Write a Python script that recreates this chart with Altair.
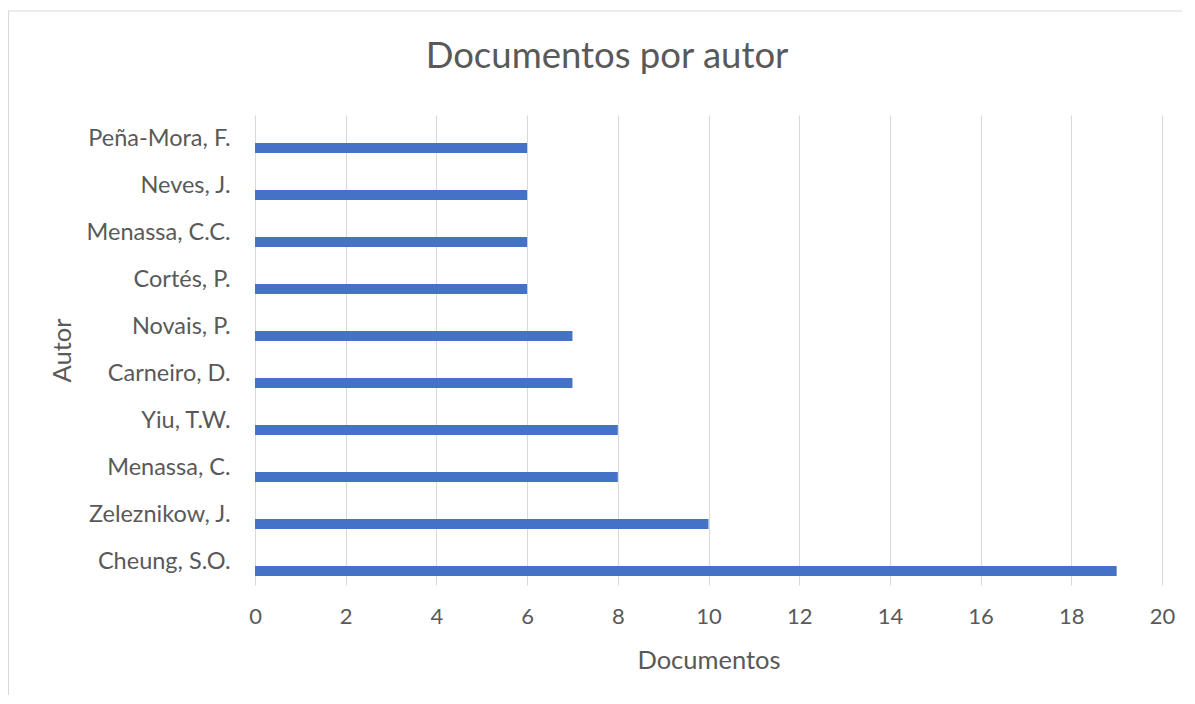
import altair as alt
import pandas as pd

autores = ["Peña-Mora, F.", "Neves, J.", "Menassa, C.C.", "Cortés, P.", "Novais, P.",
           "Carneiro, D.", "Yiu, T.W.", "Menassa, C.", "Zeleznikow, J.", "Cheung, S.O."]
documentos = [6, 6, 6, 6, 7, 7, 8, 8, 10, 19]
x_ticks = [0, 2, 4, 6, 8, 10, 12, 14, 16, 18, 20]
titulo = ["Documentos por autor"]

df = pd.DataFrame({"Autor": autores, "Documentos": documentos})
df_t = pd.DataFrame({"t": titulo})

FONT = "Lato"
TXT = "#595959"
GRID = "#d9d9d9"

W, H = 907, 470
PL, PT = 247, 107

bars = alt.Chart(df).mark_bar(color="#4472C4", size=10, yOffset=9.5).encode(
    x=alt.X("Documentos:Q",
            scale=alt.Scale(domain=[0, 20], nice=False),
            axis=alt.Axis(values=x_ticks, grid=True, gridColor=GRID, gridWidth=1,
                          domain=False, ticks=False, labelPadding=21, labelFlush=False,
                          labelFontSize=22, labelColor=TXT, labelFont=FONT,
                          title="Documentos", titleFontSize=25.5, titleColor=TXT,
                          titleFont=FONT, titleFontWeight="normal",
                          titleBaseline="middle", titleY=75)),
    y=alt.Y("Autor:N", sort=autores,
            scale=alt.Scale(paddingInner=0, paddingOuter=0),
            axis=alt.Axis(domain=False, ticks=False, grid=False, labelPadding=25,
                          labelFontSize=23.5, labelColor=TXT, labelFont=FONT,
                          title="Autor", titleFontSize=25.5, titleColor=TXT,
                          titleFont=FONT, titleFontWeight="normal",
                          titleAngle=-90, titleAlign="center", titleBaseline="middle",
                          titleX=-193, titleY=H / 2)),
)

title = alt.Chart(df_t).mark_text(font=FONT, fontSize=36.5, color=TXT,
                                  baseline="alphabetic", align="center").encode(
    text="t:N", x=alt.value(352), y=alt.value(-47)
)

border_top = alt.Chart(df_t).mark_rule(color=GRID, strokeWidth=1).encode(
    x=alt.value(-PL), x2=alt.value(1195 - 255), y=alt.value(-104)
)
border_left = alt.Chart(df_t).mark_rule(color=GRID, strokeWidth=1).encode(
    x=alt.value(-PL + 0.5), y=alt.value(-104), y2=alt.value(704 - 115)
)

chart = alt.layer(border_top, border_left, title, bars).properties(
    width=W, height=H,
    autosize=alt.AutoSizeParams(type="none"),
    padding={"left": PL, "top": PT, "right": 20, "bottom": 110},
).configure_view(stroke=None)

chart.save("out.html", embed_options={"renderer": "svg", "actions": False})
